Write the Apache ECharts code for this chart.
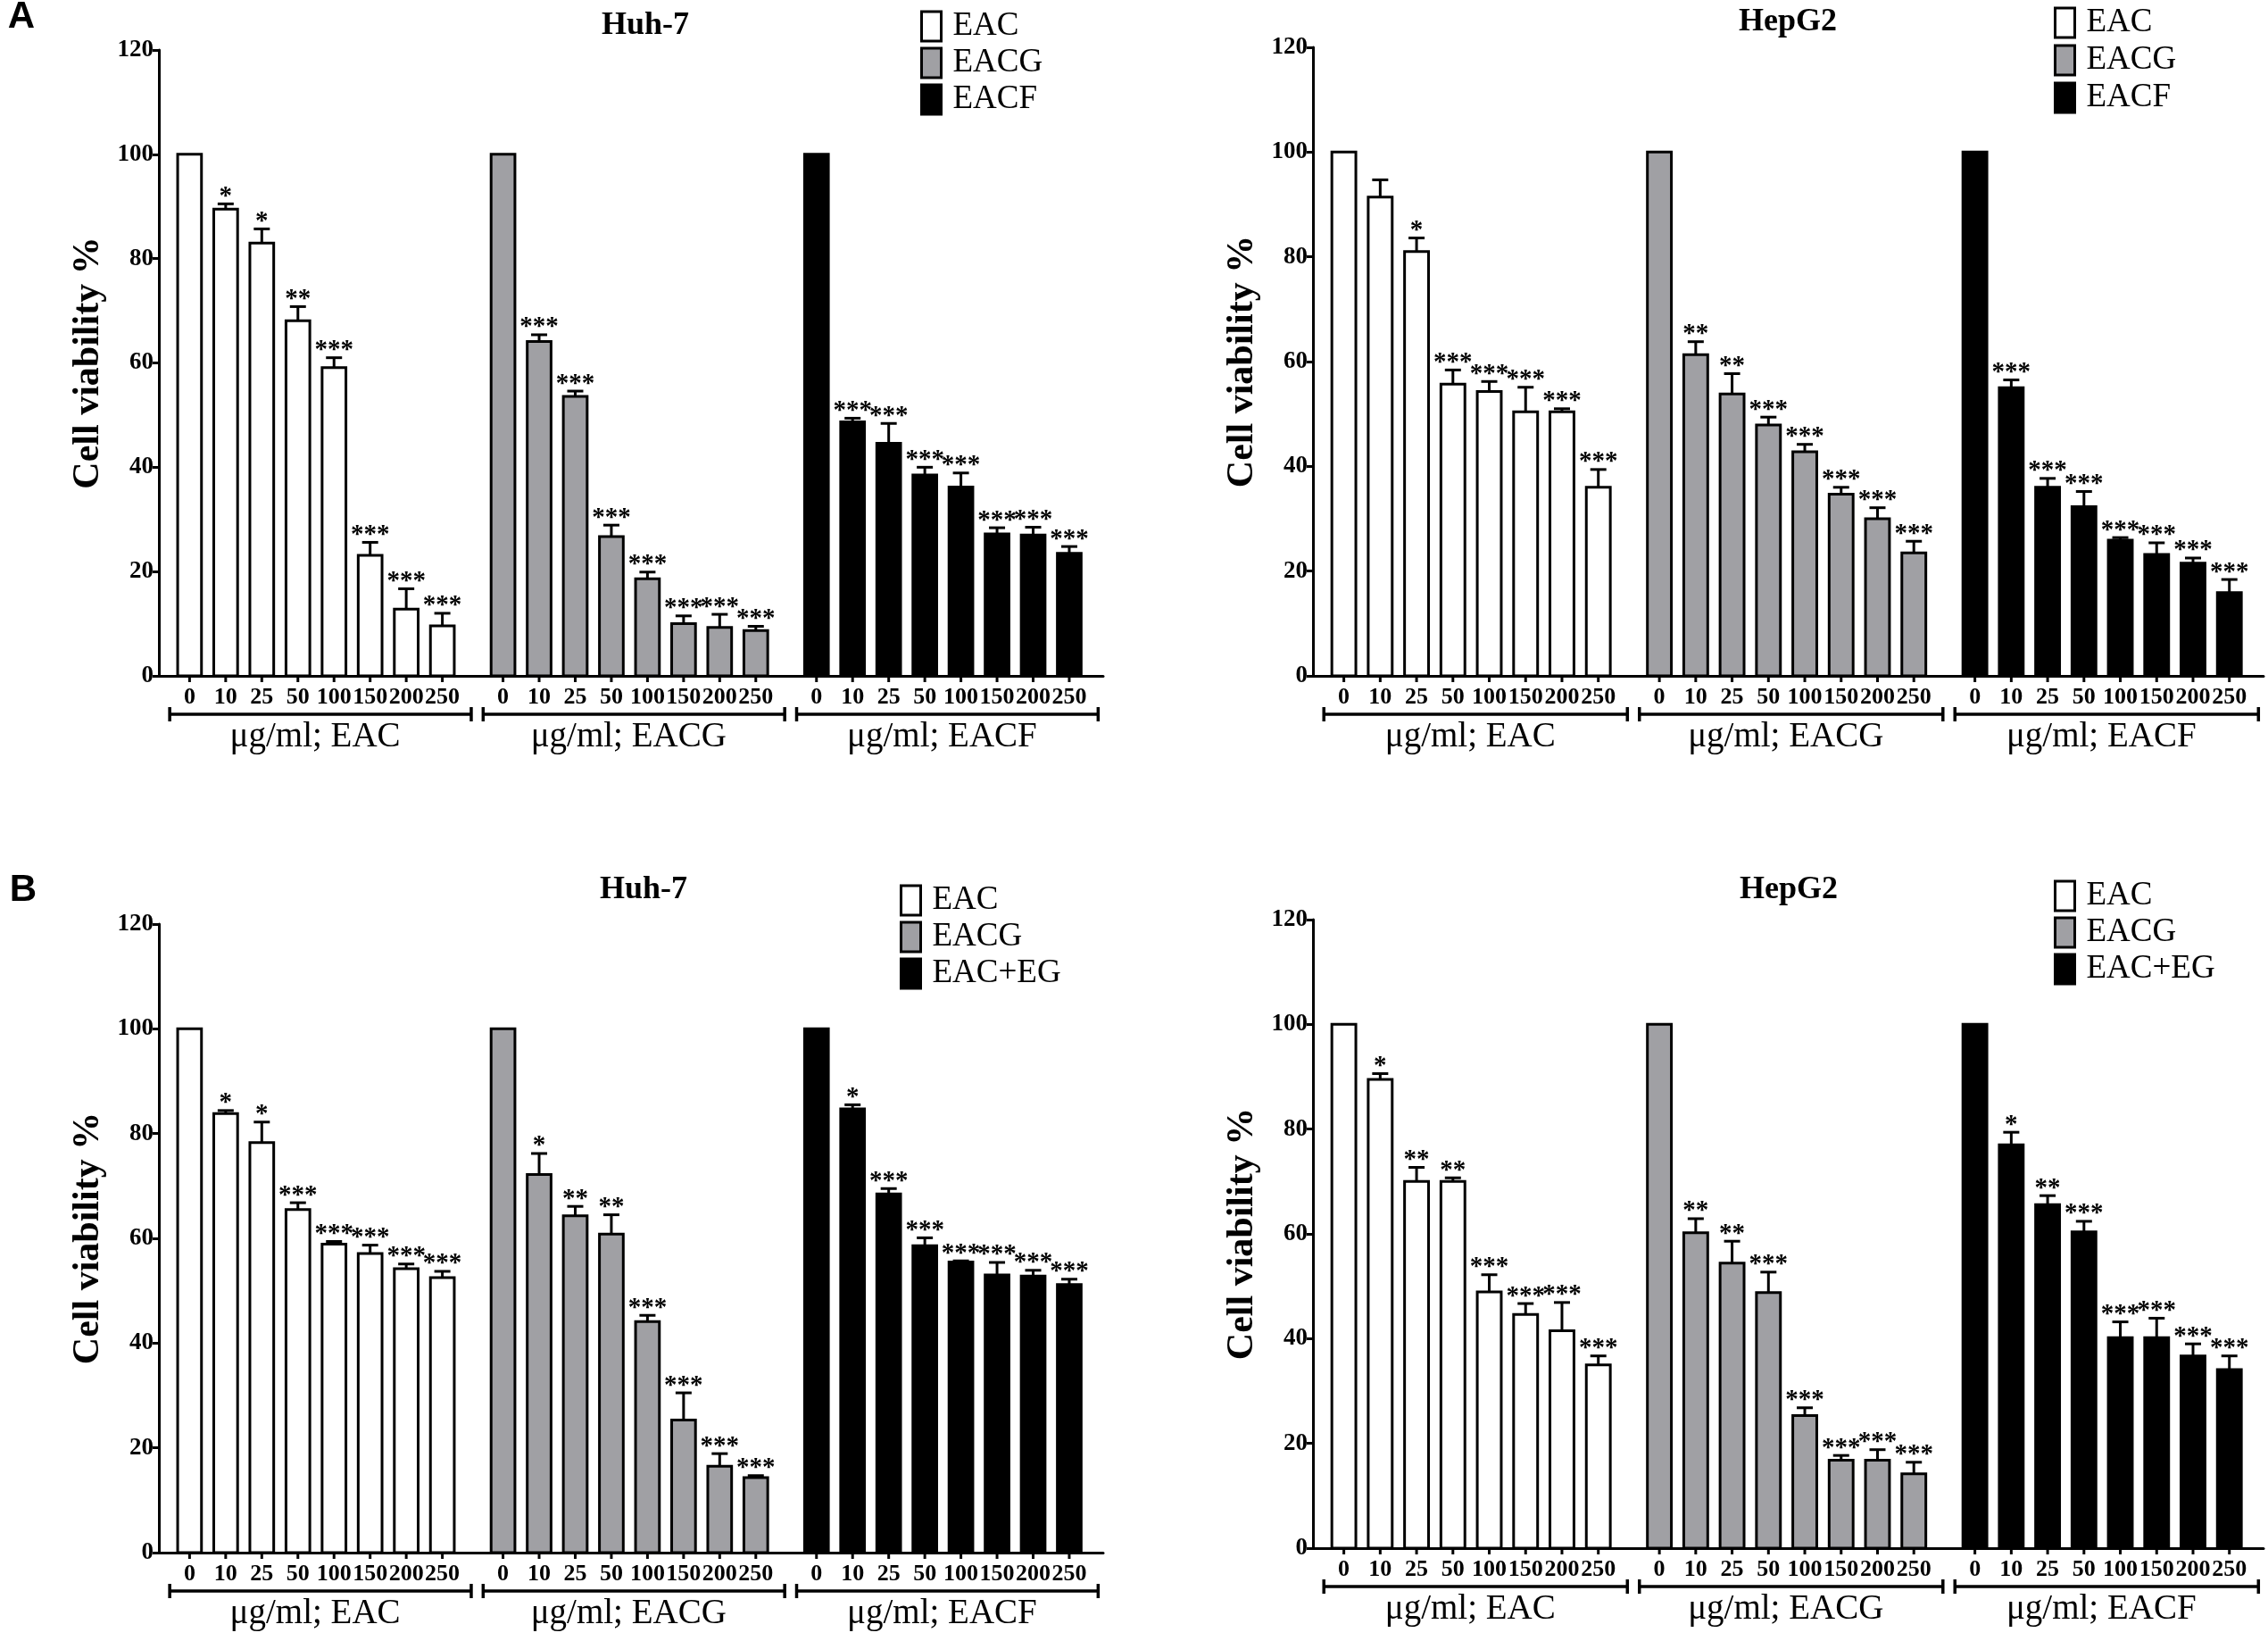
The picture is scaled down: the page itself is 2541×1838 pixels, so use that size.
<!DOCTYPE html>
<html><head><meta charset="utf-8">
<script src="https://cdn.jsdelivr.net/npm/echarts@6/dist/echarts.min.js"></script>
<style>html,body{margin:0;padding:0;background:#fff}#c{width:2541px;height:1838px}</style>
</head><body><div id="c"></div>
<script>
const doses = ['0','10','25','50','100','150','200','250'];
const groupLabels = ['μg/ml; EAC','μg/ml; EACG','μg/ml; EACF'];
const legendA = ['EAC','EACG','EACF'];
const legendB = ['EAC','EACG','EAC+EG'];
const panelTitles = ['Huh-7','HepG2','Huh-7','HepG2'];
const panelLetters = ['A','B'];
const yTitle = 'Cell viability %';
const yTicks = [0,20,40,60,80,100,120];

// Panel A, Huh-7
const aHuhEAC      = [100, 89.5, 83.0, 68.1, 59.1, 23.1, 12.8, 9.6];
const aHuhEACErr   = [0, 1.0, 2.7, 2.7, 1.9, 2.5, 3.9, 2.4];
const aHuhEACSig   = ['', '*', '*', '**', '***', '***', '***', '***'];
const aHuhEACG     = [100, 64.1, 53.6, 26.7, 18.6, 10.0, 9.3, 8.7];
const aHuhEACGErr  = [0, 1.3, 1.0, 2.2, 1.3, 1.5, 2.5, 0.8];
const aHuhEACGSig  = ['', '***', '***', '***', '***', '***', '***', '***'];
const aHuhEACF     = [100, 48.7, 44.6, 38.5, 36.2, 27.2, 27.0, 23.5];
const aHuhEACFErr  = [0, 0.7, 3.8, 1.5, 2.7, 1.2, 1.5, 1.3];
const aHuhEACFSig  = ['', '***', '***', '***', '***', '***', '***', '***'];
// Panel A, HepG2
const aHepEAC      = [100, 91.4, 81.0, 55.7, 54.3, 50.4, 50.4, 36.0];
const aHepEACErr   = [0, 3.3, 2.6, 2.7, 1.9, 4.7, 0.6, 3.4];
const aHepEACSig   = ['', '', '*', '***', '***', '***', '***', '***'];
const aHepEACG     = [100, 61.3, 53.8, 47.9, 42.8, 34.7, 30.0, 23.5];
const aHepEACGErr  = [0, 2.5, 3.9, 1.5, 1.4, 1.3, 2.1, 2.2];
const aHepEACGSig  = ['', '**', '**', '***', '***', '***', '***', '***'];
const aHepEACF     = [100, 55.0, 36.0, 32.3, 25.9, 23.2, 21.5, 15.9];
const aHepEACFErr  = [0, 1.5, 1.7, 2.9, 0.5, 2.2, 1.0, 2.5];
const aHepEACFSig  = ['', '***', '***', '***', '***', '***', '***', '***'];
// Panel B, Huh-7
const bHuhEAC      = [100, 83.8, 78.3, 65.5, 58.9, 57.1, 54.2, 52.5];
const bHuhEACErr   = [0, 0.6, 3.9, 1.3, 0.5, 1.6, 0.9, 1.2];
const bHuhEACSig   = ['', '*', '*', '***', '***', '***', '***', '***'];
const bHuhEACG     = [100, 72.2, 64.3, 60.8, 44.1, 25.3, 16.5, 14.3];
const bHuhEACGErr  = [0, 4.0, 1.8, 3.7, 1.2, 5.2, 2.4, 0.4];
const bHuhEACGSig  = ['', '*', '**', '**', '***', '***', '***', '***'];
const bHuhEACEG    = [100, 84.7, 68.5, 58.6, 55.5, 53.0, 52.8, 51.2];
const bHuhEACEGErr = [0, 0.8, 1.0, 1.5, 0.2, 2.4, 1.1, 1.0];
const bHuhEACEGSig = ['', '*', '***', '***', '***', '***', '***', '***'];
// Panel B, HepG2
const bHepEAC      = [100, 89.5, 70.0, 70.0, 48.9, 44.6, 41.5, 35.0];
const bHepEACErr   = [0, 1.1, 2.7, 0.7, 3.3, 2.1, 5.4, 1.7];
const bHepEACSig   = ['', '*', '**', '**', '***', '***', '***', '***'];
const bHepEACG     = [100, 60.2, 54.4, 48.8, 25.3, 16.8, 16.8, 14.2];
const bHepEACGErr  = [0, 2.7, 4.2, 3.9, 1.5, 0.9, 2.0, 2.2];
const bHepEACGSig  = ['', '**', '**', '***', '***', '***', '***', '***'];
const bHepEACEG    = [100, 77.0, 65.6, 60.4, 40.2, 40.2, 36.7, 34.1];
const bHepEACEGErr = [0, 2.4, 1.7, 2.0, 3.0, 3.7, 2.3, 2.6];
const bHepEACEGSig = ['', '*', '**', '***', '***', '***', '***', '***'];

const SERIF = '"Liberation Serif","Times New Roman",serif';
const SANS = '"Liberation Sans",Arial,sans-serif';
const FILLS = ['#ffffff', '#a0a0a4', '#000000'];
const GROUP_STEP = 8.68;
const BAR_W = 0.66;

const panels = [
  {grid:{left:178, top:56, width:1058, height:701}, legend:legendA, legendPos:{left:1031, top:11, gap:4},
   title:{x:723, y:29}, groups:[[aHuhEAC,aHuhEACErr,aHuhEACSig],[aHuhEACG,aHuhEACGErr,aHuhEACGSig],[aHuhEACF,aHuhEACFErr,aHuhEACFSig]]},
  {grid:{left:1471, top:53, width:1065, height:704}, legend:legendA, legendPos:{left:2301, top:7, gap:5},
   title:{x:2003, y:25}, groups:[[aHepEAC,aHepEACErr,aHepEACSig],[aHepEACG,aHepEACGErr,aHepEACGSig],[aHepEACF,aHepEACFErr,aHepEACFSig]]},
  {grid:{left:178, top:1035, width:1058, height:704}, legend:legendB, legendPos:{left:1008, top:990, gap:4},
   title:{x:721, y:997}, groups:[[bHuhEAC,bHuhEACErr,bHuhEACSig],[bHuhEACG,bHuhEACGErr,bHuhEACGSig],[bHuhEACEG,bHuhEACEGErr,bHuhEACEGSig]]},
  {grid:{left:1471, top:1030, width:1065, height:704}, legend:legendB, legendPos:{left:2301, top:985, gap:4},
   title:{x:2004, y:997}, groups:[[bHepEAC,bHepEACErr,bHepEACSig],[bHepEACG,bHepEACGErr,bHepEACGSig],[bHepEACEG,bHepEACEGErr,bHepEACEGSig]]}
];

const grids = [], xAxes = [], yAxes = [], series = [], legends = [], graphics = [];

panels.forEach((p, pi) => {
  grids.push(Object.assign({containLabel:false}, p.grid));
  xAxes.push({type:'value', gridIndex:pi, min:-0.85, max:25.3,
    axisLine:{show:true, onZero:false, lineStyle:{color:'#000', width:3}},
    axisTick:{show:false}, axisLabel:{show:false}, splitLine:{show:false}});
  yAxes.push({type:'value', gridIndex:pi, min:0, max:120, interval:20,
    axisLine:{show:true, onZero:false, lineStyle:{color:'#000', width:3}},
    axisTick:{show:true, length:7, lineStyle:{color:'#000', width:3}},
    axisLabel:{color:'#000', fontFamily:SERIF, fontWeight:'bold', fontSize:27, margin:6},
    splitLine:{show:false},
    name:yTitle, nameLocation:'middle', nameRotate:90, nameGap:58,
    nameTextStyle:{color:'#000', fontFamily:SERIF, fontWeight:'bold', fontSize:42}});

  p.groups.forEach((g, gi) => {
    const vals = g[0], errs = g[1], sigs = g[2];
    series.push({
      type:'custom', name:p.legend[gi], xAxisIndex:pi, yAxisIndex:pi, clip:false,
      itemStyle:{color:FILLS[gi]},
      data: vals.map((v, i) => [gi*GROUP_STEP + i, v, errs[i]]),
      renderItem: function (params, api) {
        const x = api.value(0), v = api.value(1), e = api.value(2);
        const i = params.dataIndex;
        const pl = api.coord([x - BAR_W/2, v]);
        const pr = api.coord([x + BAR_W/2, 0]);
        const pc0 = api.coord([x, 0]);
        const pcv = api.coord([x, v]);
        const children = [{
          type:'rect',
          shape:{x:pl[0], y:pl[1], width:pr[0]-pl[0], height:pr[1]-pl[1]},
          style:{fill:FILLS[gi], stroke:'#000', lineWidth:3}
        }];
        let topY = pcv[1];
        if (e > 0) {
          const pe = api.coord([x, v + e]);
          topY = pe[1];
          children.push({type:'line', shape:{x1:pcv[0], y1:pcv[1], x2:pe[0], y2:pe[1]}, style:{stroke:'#000', lineWidth:3}});
          children.push({type:'line', shape:{x1:pe[0]-9, y1:pe[1], x2:pe[0]+9, y2:pe[1]}, style:{stroke:'#000', lineWidth:3}});
        }
        if (sigs[i]) {
          children.push({type:'text', x:pcv[0], y:topY - 8,
            style:{text:sigs[i], fill:'#000', font:'bold 29px ' + SERIF, align:'center', verticalAlign:'middle'}});
        }
        children.push({type:'line', shape:{x1:pc0[0], y1:pc0[1], x2:pc0[0], y2:pc0[1]+7}, style:{stroke:'#000', lineWidth:3}});
        children.push({type:'text', x:pc0[0], y:pc0[1] + 24,
          style:{text:doses[i], fill:'#000', font:'bold 26px ' + SERIF, align:'center', verticalAlign:'middle'}});
        return {type:'group', children:children};
      }
    });
  });

  // group brackets and labels
  series.push({
    type:'custom', xAxisIndex:pi, yAxisIndex:pi, clip:false, silent:true,
    data: groupLabels.map((t, gi) => [gi*GROUP_STEP]),
    renderItem: function (params, api) {
      const s = api.value(0);
      const a = api.coord([s - 0.55, 0]);
      const b = api.coord([s + 7.8, 0]);
      const y = a[1] + 43;
      return {type:'group', children:[
        {type:'line', shape:{x1:a[0], y1:y, x2:b[0], y2:y}, style:{stroke:'#000', lineWidth:3.5}},
        {type:'line', shape:{x1:a[0], y1:y-8, x2:a[0], y2:y+8}, style:{stroke:'#000', lineWidth:3.5}},
        {type:'line', shape:{x1:b[0], y1:y-8, x2:b[0], y2:y+8}, style:{stroke:'#000', lineWidth:3.5}},
        {type:'text', x:(a[0]+b[0])/2 - 6, y:a[1] + 69,
          style:{text:groupLabels[params.dataIndex], fill:'#000', font:'39px ' + SERIF, align:'center', verticalAlign:'middle'}}
      ]};
    }
  });

  legends.push({
    orient:'vertical', left:p.legendPos.left, top:p.legendPos.top, padding:0,
    itemGap:p.legendPos.gap, itemWidth:22, itemHeight:33, icon:'rect', selectedMode:false,
    textStyle:{color:'#000', fontFamily:SERIF, fontSize:37, padding:[0,0,0,8]},
    data: p.legend.map((n, k) => ({name:n, itemStyle:{color:FILLS[k], borderColor:'#000', borderWidth:3}}))
  });

  graphics.push({type:'text', x:p.title.x, y:p.title.y,
    style:{text:panelTitles[pi], fill:'#000', font:'bold 36px ' + SERIF, align:'center', verticalAlign:'middle'}});
});

graphics.push({type:'text', x:24, y:19, style:{text:panelLetters[0], fill:'#000', font:'bold 42px ' + SANS, align:'center', verticalAlign:'middle'}});
graphics.push({type:'text', x:26, y:997, style:{text:panelLetters[1], fill:'#000', font:'bold 42px ' + SANS, align:'center', verticalAlign:'middle'}});

const chart = echarts.init(document.getElementById('c'), null, {renderer:'canvas'});
chart.setOption({
  backgroundColor:'#fff',
  animation:false,
  grid:grids, xAxis:xAxes, yAxis:yAxes, series:series, legend:legends, graphic:graphics
});
</script></body></html>
